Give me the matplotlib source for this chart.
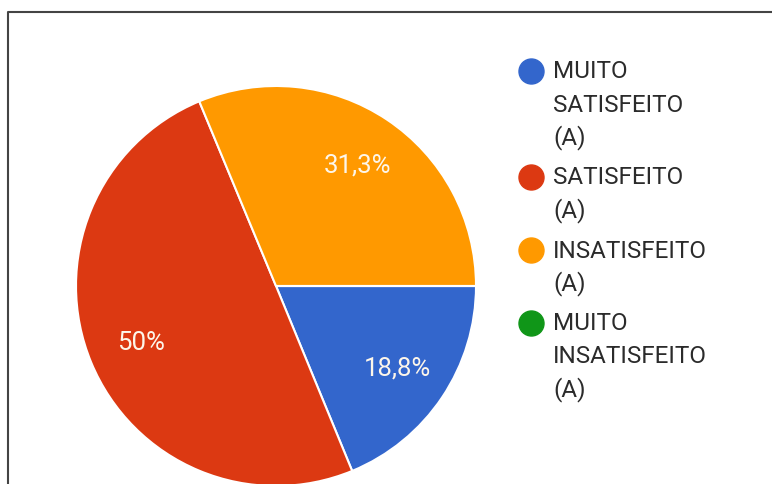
import matplotlib.pyplot as plt
import numpy as np

# survey answers (percent of responses)
categories = ["MUITO\nSATISFEITO\n(A)", "SATISFEITO\n(A)", "INSATISFEITO\n(A)", "MUITO\nINSATISFEITO\n(A)"]
values = [18.8, 50.0, 31.3, 0.0]
pct_labels = ["18,8%", "50%", "31,3%", ""]
colors = ["#3366cc", "#dc3912", "#ff9900", "#109618"]

plt.rcParams['font.family'] = ['Roboto', 'DejaVu Sans']

fig = plt.figure(figsize=(7.72, 4.85), dpi=100)

# pie, 200 px radius centred at (276, 287)
ax = fig.add_axes([76 / 772, (485 - 487) / 485, 400 / 772, 400 / 485])
wedges, texts = ax.pie(values, colors=colors, startangle=0, counterclock=False,
                       radius=1.0, wedgeprops=dict(edgecolor="white", linewidth=1.5))
ax.set_xlim(-1, 1)
ax.set_ylim(-1, 1)
ax.set_aspect("equal")
ax.axis("off")

# percentage labels inside the slices
for w, lab in zip(wedges, pct_labels):
    if not lab:
        continue
    mid = np.deg2rad((w.theta1 + w.theta2) / 2)
    r = 0.73
    ax.text(r * np.cos(mid), r * np.sin(mid), lab, ha="center", va="center",
            color="#fdf6ea", fontsize=18.5)

# overlay in pixel coordinates for the legend and frame
ov = fig.add_axes([0, 0, 1, 1])
ov.set_xlim(0, 772)
ov.set_ylim(485, 0)
ov.axis("off")
ov.patch.set_alpha(0)

ov.plot([7.5, 7.5, 772], [485, 12.5, 12.5], color="#444444", lw=1.5, solid_capstyle="butt")

y = 72
for lab, c in zip(categories, colors):
    lines = lab.split("\n")
    ov.plot(531, y, "o", ms=18, color=c, mec=c)
    for i, line in enumerate(lines):
        ov.text(553, y + i * 33, line, ha="left", va="center", fontsize=17.5, color="#2b2b2b")
    y += (len(lines) - 1) * 33 + 40

fig.savefig("out.png", dpi=100)
